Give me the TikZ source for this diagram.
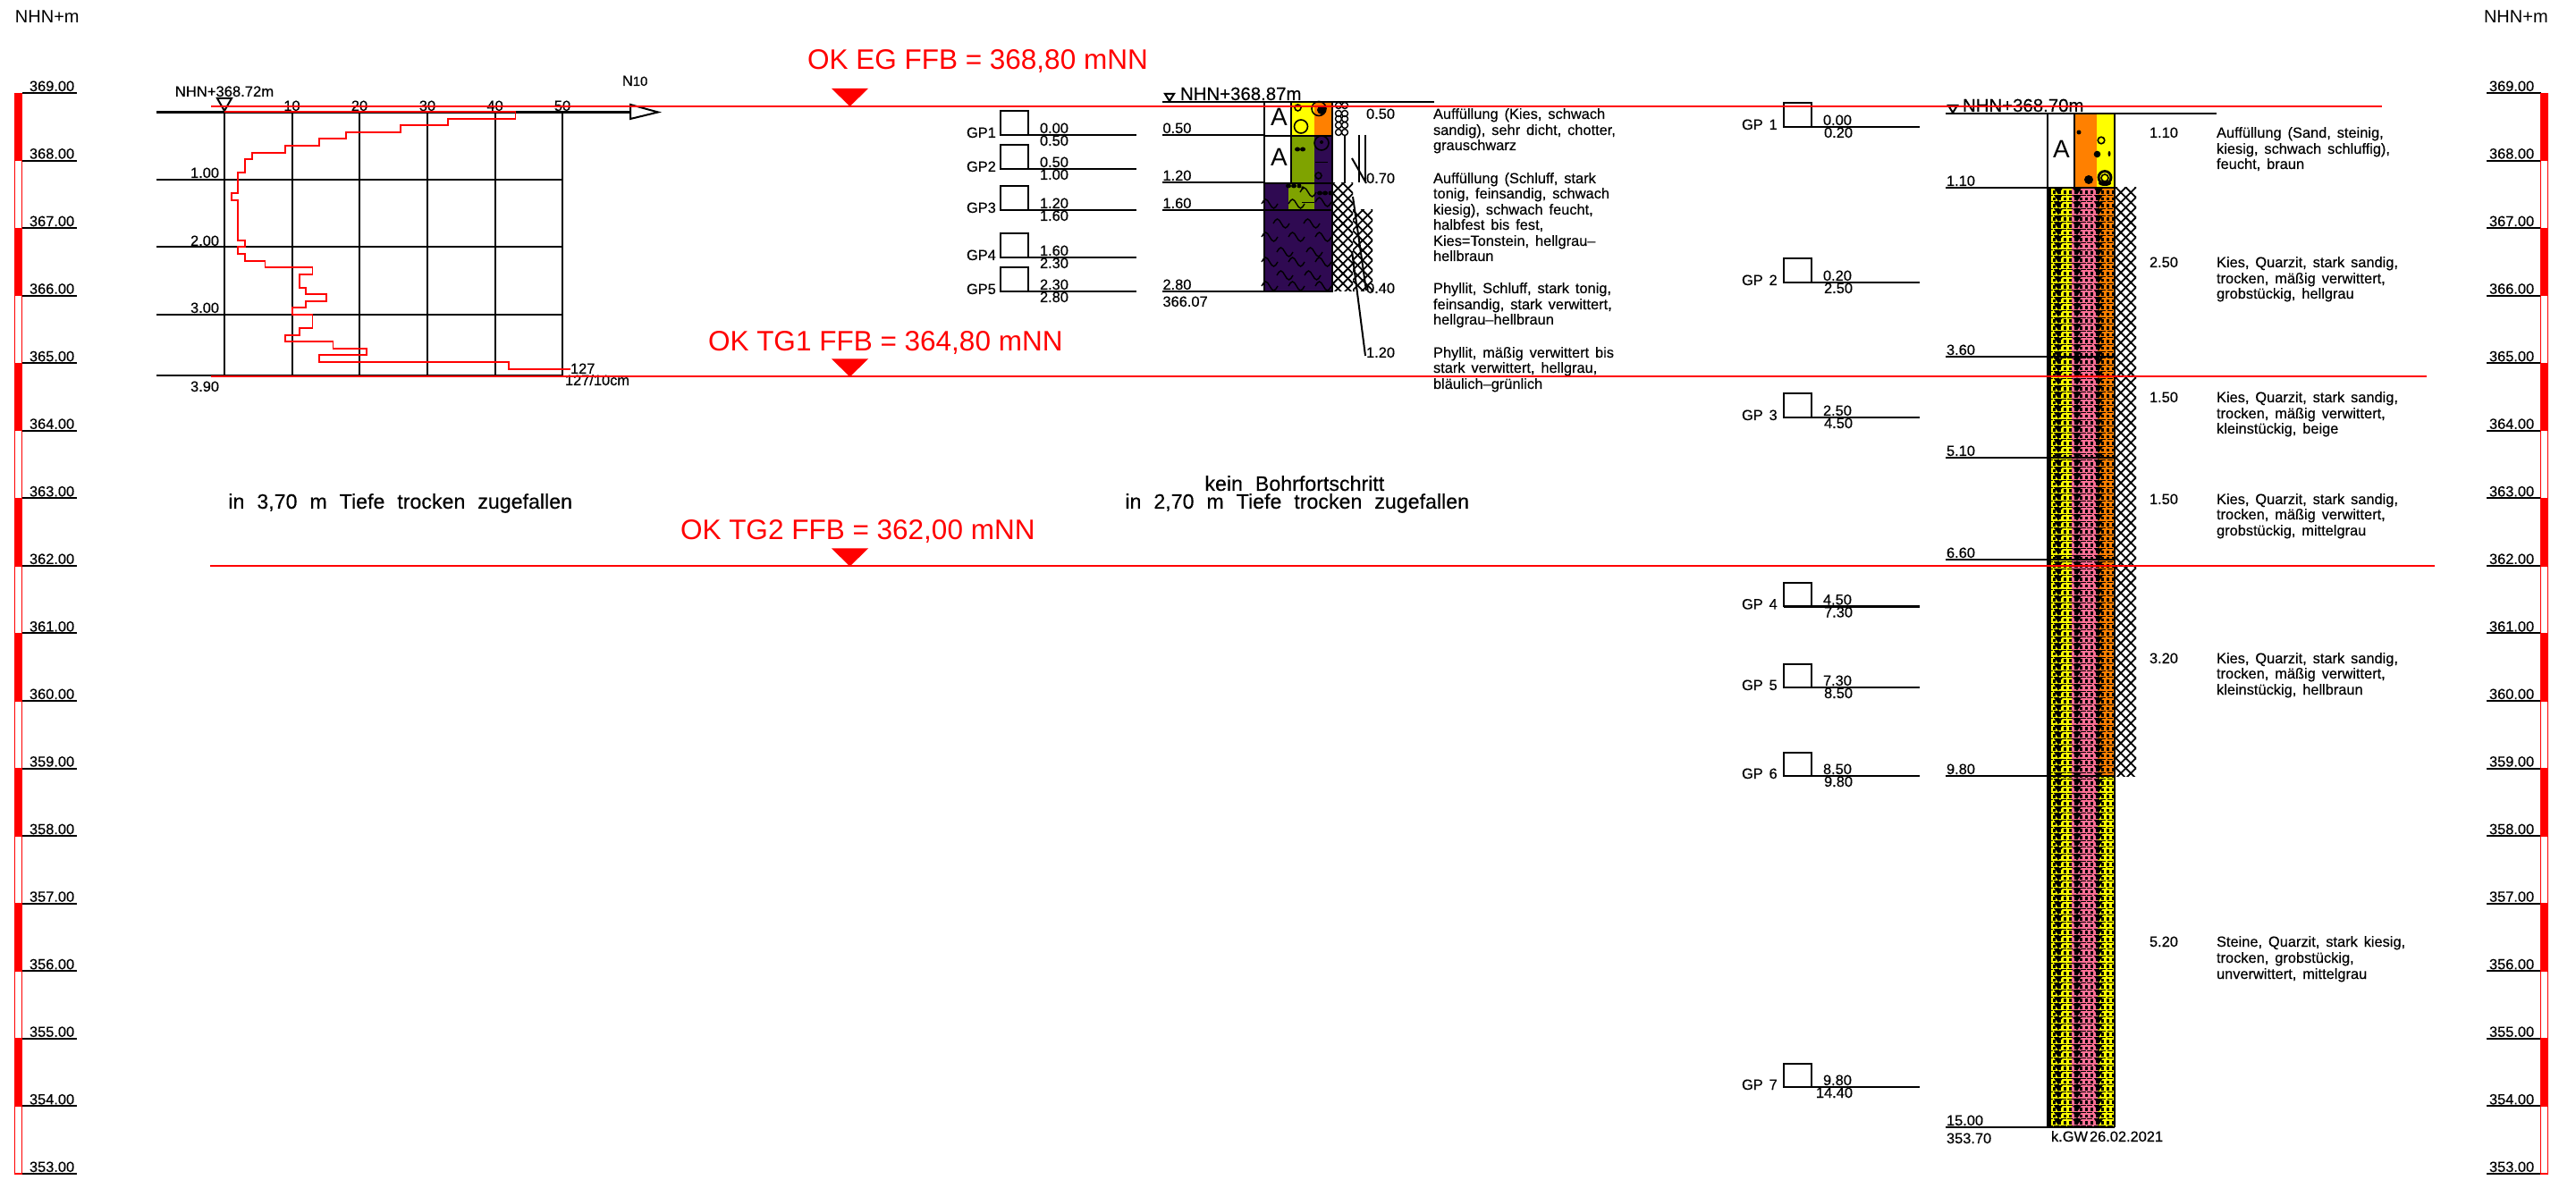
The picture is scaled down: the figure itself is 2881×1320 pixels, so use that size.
\documentclass[tikz,border=0pt]{standalone}
\usepackage{fontspec}
\setmainfont{Liberation Sans}
\newfontfamily\cadfam{Liberation Sans}[FakeBold=0.3]
\newcounter{lb}
\newcommand{\cadtext}{\cadfam\fontsize{8.2}{10}\selectfont\spaceskip=0.42em\relax}
\newcommand{\notetext}{\cadfam\fontsize{11.6}{13}\selectfont\spaceskip=0.6em\relax}
\tikzset{
  x=0.5pt,y=-0.5pt,
  lab/.style={anchor=base west,inner sep=0pt,outer sep=0pt,font=\cadtext,text=black},
  labr/.style={lab,anchor=base east},
  labc/.style={lab,anchor=base},
  redtitle/.style={anchor=base west,inner sep=0pt,outer sep=0pt,text=red,font=\fontsize{15.75}{18}\selectfont},
  thick line/.style={line width=1.1pt,black},
  thin line/.style={line width=1pt,black},
  redline/.style={line width=1pt,red},
  sym/.style={line width=0.8pt,black}
}
\definecolor{cpurple}{HTML}{2F0A52}
\definecolor{cgreen}{HTML}{7FA300}
\definecolor{cyellow}{HTML}{FFFF00}
\definecolor{corange}{HTML}{FF8000}
\definecolor{cpink}{HTML}{FF7096}
\newcommand{\lab}[3]{\stepcounter{lb}\node[lab] (L\thelb) at (#1,#2) {#3};}
\newcommand{\labR}[3]{\stepcounter{lb}\node[labr] (L\thelb) at (#1,#2) {#3};}
\newcommand{\labC}[3]{\stepcounter{lb}\node[labc] (L\thelb) at (#1,#2) {#3};}
\newcommand{\gpbox}[3]{% x-left, line y, line end
  \draw[thin line] (#1,#2-26.5) rectangle (#1+31,#2);
  \draw[thick line] (#1,#2) -- (#3,#2);
}
\newcommand{\hatchbox}[4]{%
  \begin{scope}
    \clip (#1,#2) rectangle (#3,#4);
    \pgfmathtruncatemacro\hn{(#4-#2+#3-#1)/11.2+1}
    \foreach \k in {0,...,\hn}{
      \draw[line width=0.9pt] (#1,#2+\k*11.2-#3+#1) -- ++(#3-#1+1,#3-#1+1);
      \draw[line width=0.9pt] (#1,#2+\k*11.2) -- ++(#3-#1+1,-#3+#1-1);
    }
  \end{scope}
}
\newcommand{\wave}[2]{\draw[line width=0.7pt,black] (#1-9,#2) sin (#1-4.5,#2-5) cos (#1,#2) sin (#1+4.5,#2+5) cos (#1+9,#2);}
\begin{document}
\begin{tikzpicture}
\useasboundingbox (0,0) rectangle (2881,1320);
% ---------- level scales
\foreach \h in {353,...,369}{
  \pgfmathsetmacro\yy{104+(369-\h)*75.56}
  \draw[thin line] (25,\yy) -- (86,\yy);
  \draw[thin line] (2781,\yy) -- (2842,\yy);
  \stepcounter{lb}\node[lab] (L\thelb) at (33,\yy-2) {\h.00};
  \stepcounter{lb}\node[lab] (L\thelb) at (2784,\yy-2) {\h.00};
}
\foreach \h in {369,367,...,355}{
  \pgfmathsetmacro\ya{104+(369-\h)*75.56}
  \pgfmathsetmacro\yb{\ya+75.56}
  \pgfmathsetmacro\yc{\yb+75.56}
  \foreach \xa/\xb in {16/25,2841/2850}{
    \fill[red] (\xa,\ya) rectangle (\xb,\yb);
    \draw[red,line width=0.6pt,fill=white] (\xa+0.6,\yb) rectangle (\xb-0.6,\yc);
  }
}
\stepcounter{lb}\node[lab,font=\fontsize{10}{12}\selectfont] (L\thelb) at (17,26) {NHN+m};
\stepcounter{lb}\node[lab,font=\fontsize{10}{12}\selectfont] (L\thelb) at (2778,26) {NHN+m};
% ---------- penetration test
\foreach \xx in {251,326.5,402,478,553.6,629}{\draw[thin line] (\xx,125) -- (\xx,420);}
\draw[thick line] (175,125.5) -- (705,125.5);
\foreach \yy in {201,276,352,420}{\draw[thick line] (175,\yy) -- (629,\yy);}
\draw[thin line] (705,117) -- (736,125.5) -- (705,133) -- cycle;
\draw[thin line] (243,110) -- (259,110) -- (251,124) -- cycle;
\stepcounter{lb}\node[labc,font=\cadfam\fontsize{8.3}{9}\selectfont] (L\thelb) at (251,108) {NHN+368.72m};
\labC{326.5}{124}{10}\labC{402}{124}{20}\labC{478}{124}{30}\labC{553.6}{124}{40}\labC{629}{124}{50}
\stepcounter{lb}\node[lab,font=\cadfam\fontsize{8.2}{10}\selectfont] (L\thelb) at (696,96) {N\fontsize{7.4}{9}\selectfont 10};
\labR{245}{199}{1.00}\labR{245}{275}{2.00}\labR{245}{350}{3.00}\labR{245}{438}{3.90}
\lab{638}{418}{127}\lab{632}{431}{127/10cm}
\begin{scope}[x=0.2551pt,y=-0.16667pt]
\draw[red,line width=0.9pt] (492,376) -- (1130,376) -- (1130,398) -- (982,398) -- (982,421) -- (878,421) -- (878,444) -- (759,444) -- (759,466) -- (700,466) -- (700,489) -- (626,489) -- (626,512) -- (552,512) -- (552,535) -- (537,535) -- (537,580) -- (522,580) -- (522,648) -- (507,648) -- (507,671) -- (522,671) -- (522,806) -- (537,806) -- (537,829) -- (522,829) -- (522,852) -- (537,852) -- (537,875) -- (581,875) -- (581,897) -- (685,897) -- (685,920) -- (656,920) -- (656,965) -- (670,965) -- (670,988) -- (715,988) -- (715,1011) -- (670,1011) -- (670,1033) -- (641,1033) -- (641,1056) -- (685,1056) -- (685,1101) -- (656,1101) -- (656,1124) -- (626,1124) -- (626,1147) -- (730,1147) -- (730,1169) -- (804,1169) -- (804,1192) -- (700,1192) -- (700,1215) -- (1115,1215) -- (1115,1238) -- (1250,1238);
\end{scope}
% ---------- free notes
\stepcounter{lb}\node[anchor=base west,inner sep=0pt,font=\notetext] (L\thelb) at (255,569) {in 3,70 m Tiefe trocken zugefallen};
\stepcounter{lb}\node[anchor=base west,inner sep=0pt,font=\notetext] (L\thelb) at (1258,569) {in 2,70 m Tiefe trocken zugefallen};
\stepcounter{lb}\node[anchor=base west,inner sep=0pt,font=\notetext] (L\thelb) at (1347,549) {kein Bohrfortschritt};
% ---------- middle boring, GP rows
\foreach \ly/\n/\ua/\ub in {151/1/0.00/0.50,189/2/0.50/1.00,235/3/1.20/1.60,288/4/1.60/2.30,326/5/2.30/2.80}{
  \gpbox{1119}{\ly}{1271}
  \lab{1081}{\ly+3}{GP\n}
  \lab{1163}{\ly-2}{\ua}
  \lab{1163}{\ly+12}{\ub}
}
% middle column fills
\fill[cyellow] (1444,114) rectangle (1470,152);
\fill[corange] (1470,114) rectangle (1490,152);
\fill[cgreen] (1444,152) rectangle (1470,205);
\fill[cpurple] (1470,152) rectangle (1490,205);
\fill[cpurple] (1414,205) rectangle (1490,326);
\fill[cgreen] (1441,205) rectangle (1470,235);
\foreach \wx/\wy in {1463/215,1420/228,1450/228,1480/226,1433/250,1467/250,1420/265,1450/265,1480/265,1437/282,1470/282,1420/293,1450/293,1480/293,1420/320,1450/320,1480/320,1437/308,1468/308}{\wave{\wx}{\wy}}
% middle symbols
\draw[sym] (1451.5,120.5) circle (3.5);
\draw[sym] (1455,141.5) circle (7.5);
\draw[sym] (1475,121.5) circle (8);
\fill (1478,123) circle (5);
\fill (1451,167) ellipse (3 and 2.5);\fill (1457,167) ellipse (3 and 2.5);
\draw[sym] (1478,160) circle (8);\fill (1478,159) circle (2);
\draw[sym] (1471,181.5) -- (1485,181.5);
\draw[sym] (1474.5,196.5) circle (3.5);
\fill (1441,208) ellipse (3 and 2.5);\fill (1447,208) ellipse (3 and 2.5);\fill (1453,208) ellipse (2.5 and 2.5);\fill (1457,210) circle (1.8);
\fill (1476,216) ellipse (3 and 2.5);\fill (1482,216) ellipse (3 and 2.5);\fill (1488,216) ellipse (2.5 and 2.5);
\draw[sym] (1456,226.5) -- (1470,226.5);
\foreach \cy in {118,127,133,140,148}{\draw[line width=0.7pt] (1497,\cy) circle (3.5);\draw[line width=0.7pt] (1504,\cy) circle (3.5);}
% column outline
\draw[thick line,fill=white] (1414,114) rectangle (1444,152);
\draw[thick line,fill=white] (1414,152) rectangle (1444,205);
\draw[thick line] (1444,114) -- (1444,205);
\draw[thick line] (1414,114) -- (1414,326) -- (1490,326) -- (1490,114);
\foreach \ly in {152,205,235}{\draw[thick line] (1414,\ly) -- (1490,\ly);}
\foreach \ly in {151,204,235,326}{\draw[thick line] (1300,\ly) -- (1414,\ly);}
\draw[thick line] (1300,114) -- (1604,114);
\draw[thin line] (1303,105) -- (1313,105) -- (1308,113) -- cycle;
\stepcounter{lb}\node[lab,font=\cadfam\fontsize{10.2}{12}\selectfont] (L\thelb) at (1320,112) {NHN+368.87m};
\lab{1300.5}{149}{0.50}\lab{1300.5}{202}{1.20}\lab{1300.5}{233}{1.60}\lab{1300.5}{324}{2.80}\lab{1300.5}{343}{366.07}
\stepcounter{lb}\node[lab,font=\fontsize{14}{16}\selectfont] (L\thelb) at (1421,141) {A};
\stepcounter{lb}\node[lab,font=\fontsize{14}{16}\selectfont] (L\thelb) at (1421,186) {A};
% middle hatch and side lines
\hatchbox{1491}{205}{1513}{326}
\hatchbox{1513}{235}{1535}{326}
\draw[thin line] (1504,152) -- (1504,205);
\draw[thin line] (1520,151) -- (1520,204);
\draw[thin line] (1527,151) -- (1527,204);
\draw[thin line] (1512,177) -- (1528,205);
\draw[thin line] (1513,220) -- (1528,325);
\draw[thin line] (1512,281) -- (1527,398);
\labR{1560}{133}{0.50}\labR{1560}{205}{0.70}\labR{1560}{328}{0.40}\labR{1560}{400}{1.20}
\foreach \yy/\t in {
 133/{Auffüllung (Kies, schwach},151/{sandig), sehr dicht, chotter,},168/{grauschwarz},
 205/{Auffüllung (Schluff, stark},222/{tonig, feinsandig, schwach},240/{kiesig), schwach feucht,},257/{halbfest bis fest,},275/{Kies=Tonstein, hellgrau–},292/{hellbraun},
 328/{Phyllit, Schluff, stark tonig,},346/{feinsandig, stark verwittert,},363/{hellgrau–hellbraun},
 400/{Phyllit, mäßig verwittert bis},417/{stark verwittert, hellgrau,},435/{bläulich–grünlich}}{\lab{1603}{\yy}{\t}}
% ---------- right boring, GP rows
\foreach \ly/\n/\ua/\ub in {142/1/0.00/0.20,316/2/0.20/2.50,467/3/2.50/4.50,678.5/4/4.50/7.30,769/5/7.30/8.50,868/6/8.50/9.80,1216/7/9.80/14.40}{
  \gpbox{1995}{\ly}{2147}
  \lab{1948}{\ly+3}{GP\ \n}
  \lab{2039}{\ly-2}{\ua}
  \labR{2072}{\ly+12}{\ub}
}
% right column fills
\fill[corange] (2320,127) rectangle (2345,210);
\fill[cyellow] (2345,127) rectangle (2365,210);
\fill[cyellow] (2290,210) rectangle (2317,1261);
\fill[cpink] (2317,210) rectangle (2346,1261);
\fill[corange] (2346,210) rectangle (2365,868);
\fill[cyellow] (2346,868) rectangle (2365,1261);
\begin{scope}
\clip (2290,210) rectangle (2365,1261);
\foreach \r in {0,...,138}{
  \pgfmathsetmacro\yy{210+\r*7.6}
  \draw[line width=1.8pt,dash pattern=on 1.7pt off 1.3pt] (2290,\yy+4.8) -- (2365,\yy+4.8);
  \draw[line width=0.5pt,dash pattern=on 3pt off 0.7pt] (2290,\yy+0.7) -- (2365,\yy+0.7);
  \fill (2297,\yy+0.5) -- (2307,\yy+0.5) -- (2302,\yy+7.6) -- cycle;
  \fill (2318,\yy+0.5) -- (2328,\yy+0.5) -- (2323,\yy+7.6) -- cycle;
  \fill (2342,\yy+0.5) -- (2352,\yy+0.5) -- (2347,\yy+7.6) -- cycle;
}
\fill (2290,210) rectangle (2294,1261);
\end{scope}
\fill (2325,148) circle (2.5);
\draw[sym] (2350,157) circle (3.8);
\fill (2345.5,172.5) circle (3.8);
\fill (2359,172) ellipse (1.5 and 3);
\fill (2336,201) circle (5);
\draw[line width=1.4pt] (2354,198.5) circle (7);
\draw[line width=0.8pt] (2354,199) circle (4);
\fill (2354,205) ellipse (7 and 3);
\draw[thick line] (2290,127) rectangle (2320,210);
\draw[thick line] (2320,127) rectangle (2365,210);
\draw[thick line] (2290,210) -- (2290,1261) (2365,210) -- (2365,1261);
\draw[thick line] (2176,126.7) -- (2479,126.7);
\stepcounter{lb}\node[lab,font=\cadfam\fontsize{10.2}{12}\selectfont] (L\thelb) at (2195,125) {NHN+368.70m};
\draw[thin line] (2179,118) -- (2189,118) -- (2184,126) -- cycle;
\foreach \ly/\t in {210/1.10,399/3.60,512/5.10,626/6.60,868/9.80,1261/15.00}{
  \draw[thick line] (2176,\ly) -- (2290,\ly);
  \draw[thin line] (2290,\ly) -- (2365,\ly);
  \lab{2177}{\ly-2}{\t}
}
\lab{2177}{1279}{353.70}
\lab{2294}{1277}{k.GW}\lab{2337}{1277}{26.02.2021}
\stepcounter{lb}\node[lab,font=\fontsize{14}{16}\selectfont] (L\thelb) at (2296,177) {A};
\hatchbox{2366}{210}{2389}{868}
\foreach \yy/\t in {154/1.10,299/2.50,450/1.50,564/1.50,742/3.20,1059/5.20}{\lab{2404}{\yy}{\t}}
\foreach \yy/\t in {
 154/{Auffüllung (Sand, steinig,},172/{kiesig, schwach schluffig),},189/{feucht, braun},
 299/{Kies, Quarzit, stark sandig,},317/{trocken, mäßig verwittert,},334/{grobstückig, hellgrau},
 450/{Kies, Quarzit, stark sandig,},468/{trocken, mäßig verwittert,},485/{kleinstückig, beige},
 564/{Kies, Quarzit, stark sandig,},581/{trocken, mäßig verwittert,},599/{grobstückig, mittelgrau},
 742/{Kies, Quarzit, stark sandig,},759/{trocken, mäßig verwittert,},777/{kleinstückig, hellbraun},
 1059/{Steine, Quarzit, stark kiesig,},1077/{trocken, grobstückig,},1095/{unverwittert, mittelgrau}}{\lab{2479}{\yy}{\t}}
% ---------- red reference levels
\draw[redline] (236,119) -- (2664,119);
\draw[redline] (236,421.5) -- (2713.5,421.5);
\draw[redline] (235,633.5) -- (2723,633.5);
\foreach \ty in {119,421.5,633.5}{\fill[red] (930,\ty-20) -- (971,\ty-20) -- (950.5,\ty) -- cycle;}
\node[redtitle] (r1) at (903,78) {OK EG FFB = 368,80 mNN};
\node[redtitle] (r2) at (792,393) {OK TG1 FFB = 364,80 mNN};
\node[redtitle] (r3) at (761,604) {OK TG2 FFB = 362,00 mNN};
\end{tikzpicture}
\end{document}
